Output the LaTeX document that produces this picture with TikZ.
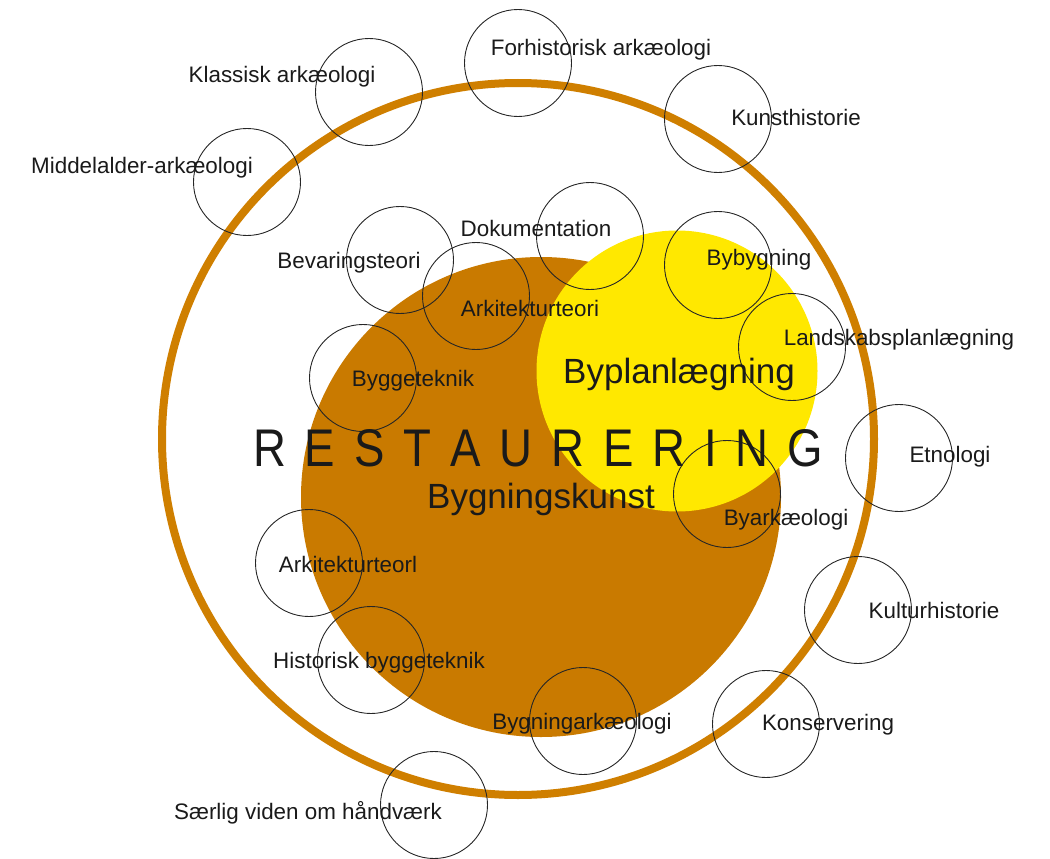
\documentclass[tikz,border=0pt]{standalone}
\usepackage{fontspec}
\setmainfont{Liberation Sans}
\newfontfamily\restfont[FakeStretch=0.86]{Liberation Sans}
\definecolor{ringc}{HTML}{CF7F00}
\definecolor{brownc}{HTML}{C97A00}
\definecolor{yellowc}{HTML}{FFE800}
\definecolor{inkc}{HTML}{1A1A1A}
\begin{document}
\begin{tikzpicture}[x=1pt,y=-1pt,
  field/.style={circle,draw=black!85,line width=0.9pt,minimum size=107pt,inner sep=0pt},
  lbl/.style={anchor=base,inner sep=0pt,text=inkc,font=\fontsize{22.4}{26}\selectfont},
  biglbl/.style={anchor=base,inner sep=0pt,text=inkc,font=\fontsize{35}{40}\selectfont}]
\useasboundingbox (0,0) rectangle (1050,859);
% outer ring
\node[circle,draw=ringc,line width=8pt,minimum size=712pt,inner sep=0pt] (ring) at (518,439) {};
% main discs
\node[circle,fill=brownc,minimum size=480pt,inner sep=0pt] (bygkunst) at (541,497) {};
\node[circle,fill=yellowc,minimum size=281pt,inner sep=0pt] (byplan) at (677,371) {};
% small circles
\node[field] (c1) at (518,63) {};
\node[field] (c2) at (369,92) {};
\node[field] (c3) at (718,119) {};
\node[field] (c4) at (247,182) {};
\node[field] (c5) at (590,236) {};
\node[field] (c6) at (400,260) {};
\node[field] (c7) at (476,296) {};
\node[field] (c8) at (718,265) {};
\node[field] (c9) at (792,347) {};
\node[field] (c10) at (363,378) {};
\node[field] (c11) at (899,458) {};
\node[field] (c12) at (727,494) {};
\node[field] (c13) at (309,563) {};
\node[field] (c14) at (858,610) {};
\node[field] (c15) at (371,660) {};
\node[field] (c16) at (583,721) {};
\node[field] (c17) at (766,724) {};
\node[field] (c18) at (434,805) {};
% labels
\node[lbl] (t1) at (601,56) {Forhistorisk arkæologi};
\node[lbl] (t2) at (282,83) {Klassisk arkæologi};
\node[lbl] (t3) at (796,125) {Kunsthistorie};
\node[lbl] (t4) at (142,173) {Middelalder-arkæologi};
\node[lbl] (t5) at (536,236) {Dokumentation};
\node[lbl] (t6) at (349,268) {Bevaringsteori};
\node[lbl] (t7) at (530,316) {Arkitekturteori};
\node[lbl] (t8) at (759,265) {Bybygning};
\node[lbl] (t9) at (899,345) {Landskabsplanlægning};
\node[lbl] (t10) at (413,386) {Byggeteknik};
\node[lbl] (t11) at (950,462) {Etnologi};
\node[lbl] (t12) at (786,525) {Byarkæologi};
\node[lbl] (t13) at (348,572) {Arkitekturteorl};
\node[lbl] (t14) at (934,618) {Kulturhistorie};
\node[lbl] (t15) at (379,668) {Historisk byggeteknik};
\node[lbl] (t16) at (582,729) {Bygningarkæologi};
\node[lbl] (t17) at (828,730) {Konservering};
\node[lbl] (t18) at (308,819) {Særlig viden om håndværk};
% big labels
\node[biglbl] (tb1) at (679,383) {Byplanlægning};
\node[biglbl] (tb2) at (541,508) {Bygningskunst};
\node[anchor=base west,inner sep=0pt,text=inkc,font=\restfont\fontsize{53}{60}\selectfont] (tr) at (253,466)
  {\makebox[570pt][s]{R\hfill E\hfill S\hfill T\hfill A\hfill U\hfill R\hfill E\hfill R\hfill I\hfill N\hfill G}};
\end{tikzpicture}
\end{document}
